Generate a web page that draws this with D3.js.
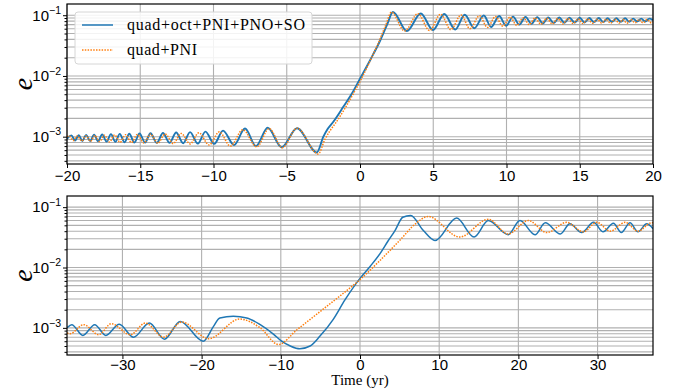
<!DOCTYPE html>
<html>
<head>
<meta charset="utf-8">
<script src="https://cdn.jsdelivr.net/npm/d3@7"></script>
<style>
  body { margin: 0; background: #fff; }
  svg { display: block; font-family: "Liberation Serif", "DejaVu Serif", serif; }
</style>
</head>
<body>
<svg id="chart" width="689" height="389"></svg>
<script>
// values: [time (yr), eccentricity]
const topFull = [
  [-20, 0.92e-3], [-19.7, 1.05e-3], [-19.45, 0.86e-3], [-19.2, 1.06e-3], [-18.95, 0.85e-3],
  [-18.7, 1.07e-3], [-18.42, 0.85e-3], [-18.15, 1.08e-3], [-17.88, 0.84e-3], [-17.6, 1.09e-3],
  [-17.3, 0.83e-3], [-17.0, 1.1e-3], [-16.7, 0.82e-3], [-16.4, 1.11e-3], [-16.07, 0.81e-3],
  [-15.75, 1.12e-3], [-15.4, 0.8e-3], [-15.05, 1.13e-3], [-14.67, 0.8e-3], [-14.3, 1.14e-3],
  [-13.87, 0.79e-3], [-13.45, 1.15e-3], [-13.0, 0.79e-3], [-12.55, 1.17e-3], [-12.07, 0.78e-3],
  [-11.6, 1.19e-3], [-11.07, 0.77e-3], [-10.55, 1.21e-3], [-9.95, 0.76e-3], [-9.35, 1.26e-3],
  [-8.6, 0.73e-3], [-7.85, 1.36e-3], [-7.1, 0.7e-3], [-6.3, 1.4e-3], [-5.35, 0.67e-3],
  [-4.3, 1.38e-3], [-2.95, 0.55e-3], [-2.5, 1.0e-3], [-2.2, 1.35e-3], [-1.82, 1.76e-3],
  [-1.14, 3.1e-3], [-0.5, 5.4e-3], [0, 9.0e-3], [0.68, 0.018], [1.37, 0.038], [1.85, 0.07],
  [2.25, 0.113], [3.2, 0.055], [4.15, 0.107], [4.98, 0.057], [5.75, 0.105], [6.5, 0.058],
  [7.15, 0.102], [7.8, 0.061], [8.45, 0.099], [8.95, 0.064], [9.5, 0.097], [9.97, 0.067],
  [10.45, 0.095], [10.87, 0.07], [11.3, 0.094], [11.7, 0.072], [12.1, 0.093], [12.47, 0.073],
  [12.85, 0.092], [13.22, 0.074], [13.6, 0.092], [13.95, 0.075], [14.3, 0.091], [14.65, 0.076],
  [15.0, 0.091], [15.32, 0.076], [15.65, 0.09], [15.97, 0.077], [16.3, 0.09], [16.6, 0.077],
  [16.9, 0.089], [17.2, 0.078], [17.5, 0.089], [17.8, 0.078], [18.1, 0.089], [18.37, 0.078],
  [18.65, 0.088], [18.92, 0.079], [19.2, 0.088], [19.47, 0.079], [19.75, 0.088], [20, 0.083]
];
const topQuad = [
  [-20, 1.0e-3], [-19.85, 1.03e-3], [-19.58, 0.86e-3], [-19.3, 1.03e-3], [-19.0, 0.85e-3],
  [-18.7, 1.04e-3], [-18.4, 0.84e-3], [-18.1, 1.05e-3], [-17.78, 0.83e-3], [-17.45, 1.06e-3],
  [-17.1, 0.82e-3], [-16.75, 1.07e-3], [-16.38, 0.81e-3], [-16.0, 1.08e-3], [-15.6, 0.8e-3],
  [-15.2, 1.09e-3], [-14.75, 0.79e-3], [-14.3, 1.1e-3], [-13.8, 0.78e-3], [-13.3, 1.11e-3],
  [-12.75, 0.77e-3], [-12.2, 1.13e-3], [-11.6, 0.76e-3], [-11.0, 1.16e-3], [-10.3, 0.73e-3],
  [-9.6, 1.2e-3], [-8.85, 0.7e-3], [-8.0, 1.3e-3], [-7.05, 0.68e-3], [-6.2, 1.36e-3],
  [-5.3, 0.66e-3], [-4.3, 1.38e-3], [-2.85, 0.52e-3], [-2.4, 0.9e-3], [-2.05, 1.25e-3],
  [-1.65, 1.7e-3], [-1.0, 3.0e-3], [-0.4, 5.4e-3], [0.1, 9.0e-3], [0.7, 0.018], [1.3, 0.037],
  [1.75, 0.068], [2.15, 0.112], [3.05, 0.055], [3.95, 0.106], [4.75, 0.056], [5.5, 0.104],
  [6.2, 0.058], [6.9, 0.101], [7.5, 0.06], [8.15, 0.098], [8.7, 0.063], [9.25, 0.095],
  [9.75, 0.066], [10.25, 0.093], [10.7, 0.068], [11.15, 0.091], [11.55, 0.07], [11.95, 0.09],
  [12.35, 0.071], [12.75, 0.089], [13.12, 0.072], [13.5, 0.088], [13.85, 0.072], [14.2, 0.088],
  [14.55, 0.073], [14.9, 0.087], [15.22, 0.073], [15.55, 0.087], [15.87, 0.074], [16.2, 0.086],
  [16.5, 0.074], [16.8, 0.086], [17.1, 0.074], [17.4, 0.086], [17.68, 0.074], [17.95, 0.085],
  [18.22, 0.074], [18.5, 0.085], [18.78, 0.075], [19.05, 0.085], [19.32, 0.075], [19.6, 0.085],
  [19.88, 0.075], [20, 0.078]
];
const botFull = [
  [-37, 1.0e-3], [-36.4, 1.13e-3], [-35.0, 0.75e-3], [-33.5, 1.13e-3], [-32.1, 0.75e-3],
  [-30.4, 1.15e-3], [-28.6, 0.7e-3], [-26.6, 1.2e-3], [-24.7, 0.65e-3], [-22.7, 1.28e-3],
  [-19.8, 0.6e-3], [-18.5, 1.06e-3], [-17.7, 1.46e-3], [-16.0, 1.55e-3], [-14.3, 1.46e-3],
  [-12.6, 1.13e-3], [-10.9, 0.78e-3], [-9.9, 0.6e-3], [-8.8, 0.5e-3], [-7.6, 0.45e-3],
  [-6.3, 0.5e-3], [-5.05, 0.73e-3], [-3.4, 1.37e-3], [-1.9, 2.9e-3], [0, 6.6e-3],
  [1.3, 0.0105], [2.53, 0.017], [3.5, 0.027], [4.42, 0.041], [5.4, 0.068], [6.4, 0.073],
  [8.0, 0.041], [9.47, 0.028], [12.2, 0.066], [14.4, 0.032], [16.2, 0.06], [18.7, 0.035],
  [20.2, 0.06], [22.1, 0.035], [23.4, 0.055], [25.3, 0.036], [26.5, 0.053], [28.0, 0.038],
  [29.5, 0.056], [30.7, 0.039], [32.0, 0.054], [33.0, 0.038], [34.1, 0.055], [35.1, 0.039],
  [36.2, 0.053], [37, 0.044]
];
const botQuad = [
  [-37, 0.82e-3], [-36.6, 0.8e-3], [-34.9, 1.13e-3], [-33.0, 0.77e-3], [-31.4, 1.17e-3],
  [-29.0, 0.77e-3], [-27.1, 1.2e-3], [-24.8, 0.7e-3], [-22.5, 1.25e-3], [-19.1, 0.66e-3],
  [-15.2, 1.4e-3], [-12.6, 1.0e-3], [-10.3, 0.53e-3], [-8, 0.92e-3], [-5, 1.88e-3],
  [-2.5, 3.4e-3], [0, 6.3e-3], [2.5, 0.013], [5, 0.028], [7, 0.053], [8.6, 0.07],
  [12.6, 0.032], [16.2, 0.063], [18.7, 0.036], [21.25, 0.06], [23.6, 0.038], [26.1, 0.056],
  [28.2, 0.039], [29.9, 0.056], [31.6, 0.04], [33.5, 0.056], [35.1, 0.04], [36.8, 0.055],
  [37, 0.055]
];

const seriesNames = ["quad+oct+PNI+PNO+SO", "quad+PNI"];
const topTicks = [-20, -15, -10, -5, 0, 5, 10, 15, 20];
const botTicks = [-30, -20, -10, 0, 10, 20, 30];
const yMajor = [1e-3, 1e-2, 1e-1];
const yMinor = [-4, -3, -2, -1].flatMap(k => [2, 3, 4, 5, 6, 7, 8, 9].map(m => m * Math.pow(10, k)));

const blue = "#1f77b4", orange = "#ff7f0e", gridColor = "#b0b0b0";
const left = 67, right = 653;
const yDomain = [Math.pow(10, -3.45), Math.pow(10, -0.815)];

const svg = d3.select("#chart");

function drawPanel(top, bottom, xDomain, xTicks, full, quad, fullWidth, pad, name) {
  const x = d3.scaleLinear().domain(xDomain).range([left, right]);
  const y = d3.scaleLog().domain(yDomain).range([bottom, top]);
  const minor = yMinor.filter(d => d >= yDomain[0] && d <= yDomain[1]);
  const g = svg.append("g");

  g.append("clipPath").attr("id", "clip-" + name)
    .append("rect")
    .attr("x", left).attr("y", top)
    .attr("width", right - left).attr("height", bottom - top);

  // grid: every y tick (major and minor), x major only
  g.append("g").selectAll("line").data(yMajor.concat(minor)).join("line")
    .attr("x1", left).attr("x2", right)
    .attr("y1", d => y(d)).attr("y2", d => y(d))
    .attr("stroke", gridColor).attr("stroke-width", 1.1);
  g.append("g").selectAll("line").data(xTicks).join("line")
    .attr("x1", d => x(d)).attr("x2", d => x(d))
    .attr("y1", top).attr("y2", bottom)
    .attr("stroke", gridColor).attr("stroke-width", 1.1);

  const line = d3.line()
    .x(d => x(d[0]))
    .y(d => y(d[1]))
    .curve(d3.curveMonotoneX);

  const lines = g.append("g").attr("clip-path", `url(#clip-${name})`);
  lines.append("path").datum(full)
    .attr("d", line).attr("fill", "none")
    .attr("stroke", blue).attr("stroke-width", fullWidth);
  lines.append("path").datum(quad)
    .attr("d", line).attr("fill", "none")
    .attr("stroke", orange).attr("stroke-width", 1.5)
    .attr("stroke-dasharray", "1.5,1.3");

  // x axis
  const xa = g.append("g")
    .attr("transform", `translate(0,${bottom})`)
    .call(d3.axisBottom(x).tickValues(xTicks).tickSize(4).tickPadding(pad));
  xa.select(".domain").remove();
  xa.selectAll("text").attr("font-size", 15).attr("fill", "#000");

  // y axis, major with 10^k labels
  const ya = g.append("g")
    .attr("transform", `translate(${left},0)`)
    .call(d3.axisLeft(y).tickValues(yMajor).tickSize(4).tickPadding(2).tickFormat(() => ""));
  ya.select(".domain").remove();
  ya.selectAll("text").each(function(d) {
    const t = d3.select(this).attr("font-size", 15).attr("fill", "#000");
    t.append("tspan").text("10");
    t.append("tspan").attr("dy", -6.5).attr("font-size", 10.5)
      .text("\u2212" + Math.round(-Math.log10(d)));
  });

  const ym = g.append("g")
    .attr("transform", `translate(${left},0)`)
    .call(d3.axisLeft(y).tickValues(minor).tickSize(2.5).tickFormat(""));
  ym.select(".domain").remove();

  // spines
  g.append("rect")
    .attr("x", left).attr("y", top)
    .attr("width", right - left).attr("height", bottom - top)
    .attr("fill", "none").attr("stroke", "#000").attr("stroke-width", 1.2);

  // y label
  g.append("text")
    .attr("transform", `translate(32,${(top + bottom) / 2}) rotate(-90)`)
    .attr("text-anchor", "middle")
    .attr("font-size", 28).attr("font-style", "italic")
    .text("e");

  return g;
}

const topPanel = drawPanel(4, 164, [-20, 20], topTicks, topFull, topQuad, 1.9, 2, "top");
drawPanel(196, 355, [-37, 37], botTicks, botFull, botQuad, 1.5, 0, "bot");

svg.append("text")
  .attr("x", 360).attr("y", 385)
  .attr("text-anchor", "middle")
  .attr("font-size", 15)
  .text("Time (yr)");

// legend
const legend = topPanel.append("g");
legend.append("rect")
  .attr("x", 75).attr("y", 12).attr("width", 237).attr("height", 52)
  .attr("rx", 3)
  .attr("fill", "rgba(255,255,255,0.85)")
  .attr("stroke", "#d6d6d6").attr("stroke-width", 1);
[blue, orange].forEach((c, i) => {
  const yy = 25 + i * 25;
  const l = legend.append("line")
    .attr("x1", 82).attr("x2", 113).attr("y1", yy).attr("y2", yy)
    .attr("stroke", c).attr("stroke-width", 1.5);
  if (i === 1) l.attr("stroke-dasharray", "1.5,1.3");
  legend.append("text")
    .attr("x", 127).attr("y", yy + 5)
    .attr("font-size", 16)
    .attr("textLength", i === 0 ? 178 : 70)
    .attr("lengthAdjust", "spacing")
    .text(seriesNames[i]);
});
</script>
</body>
</html>
